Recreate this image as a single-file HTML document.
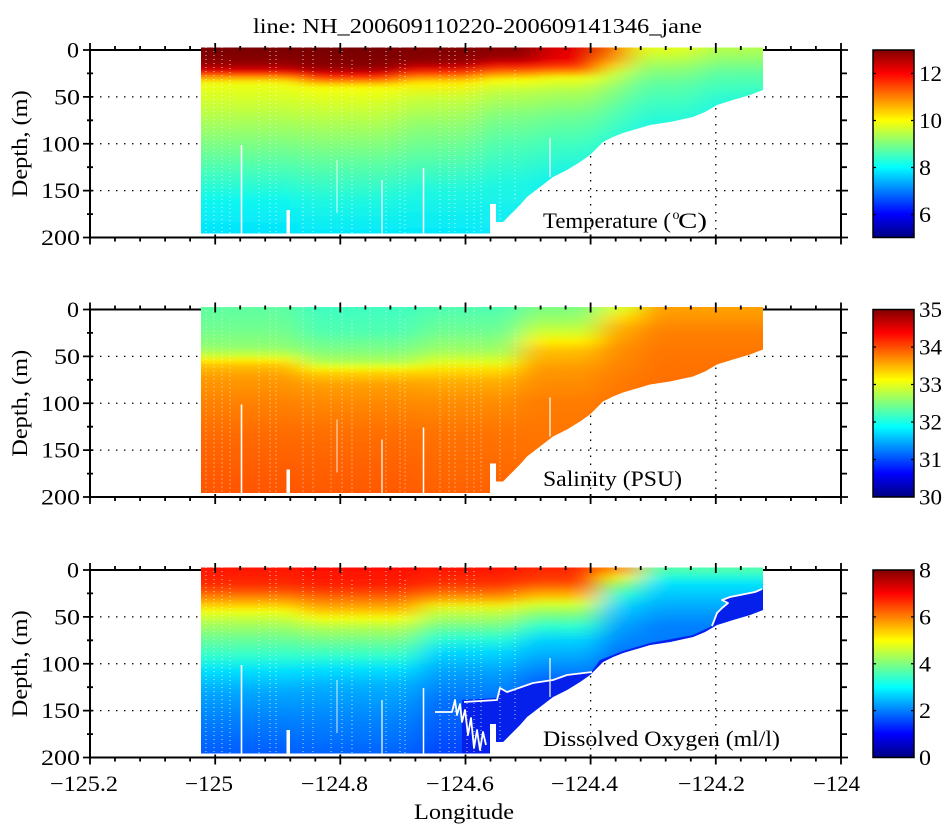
<!DOCTYPE html>
<html><head><meta charset="utf-8"><style>html,body{margin:0;padding:0;background:#fff}svg{display:block}text{font-family:"Liberation Serif","DejaVu Serif",serif;fill:#000}</style></head>
<body>
<svg width="950" height="826" viewBox="0 0 950 826" xmlns="http://www.w3.org/2000/svg" font-family="Liberation Serif, DejaVu Serif, serif">
<defs>
<linearGradient id="jet" x1="0" y1="1" x2="0" y2="0">
<stop offset="0" stop-color="#000080"/><stop offset=".125" stop-color="#0000FF"/><stop offset=".375" stop-color="#00FFFF"/><stop offset=".625" stop-color="#FFFF00"/><stop offset=".875" stop-color="#FF0000"/><stop offset="1" stop-color="#800000"/>
</linearGradient>
<!-- Panel 1 temperature -->
<linearGradient id="g1a" gradientUnits="userSpaceOnUse" x1="0" y1="50" x2="0" y2="237.5">
<stop offset="0" stop-color="#7A0000"/><stop offset=".06" stop-color="#8C0000"/><stop offset=".09" stop-color="#B00000"/><stop offset=".11" stop-color="#E00000"/><stop offset=".125" stop-color="#FF3000"/><stop offset=".14" stop-color="#FF8000"/><stop offset=".16" stop-color="#FFD000"/><stop offset=".18" stop-color="#F0FF10"/><stop offset=".30" stop-color="#C8FF38"/><stop offset=".45" stop-color="#90FF70"/><stop offset=".62" stop-color="#50FFB0"/><stop offset=".80" stop-color="#10F8F0"/><stop offset="1" stop-color="#00E0FF"/>
</linearGradient>
<linearGradient id="g1b" gradientUnits="userSpaceOnUse" x1="0" y1="50" x2="0" y2="237.5">
<stop offset="0" stop-color="#780000"/><stop offset=".08" stop-color="#880000"/><stop offset=".10" stop-color="#A00000"/><stop offset=".12" stop-color="#D00000"/><stop offset=".14" stop-color="#FF2000"/><stop offset=".16" stop-color="#FF7000"/><stop offset=".18" stop-color="#FFC000"/><stop offset=".20" stop-color="#F8FF08"/><stop offset=".30" stop-color="#D0FF30"/><stop offset=".45" stop-color="#98FF68"/><stop offset=".60" stop-color="#60FFA0"/><stop offset=".80" stop-color="#20F8E0"/><stop offset="1" stop-color="#00E8FF"/>
</linearGradient>
<linearGradient id="g1c" gradientUnits="userSpaceOnUse" x1="0" y1="50" x2="0" y2="237.5">
<stop offset="0" stop-color="#800000"/><stop offset=".06" stop-color="#900000"/><stop offset=".09" stop-color="#D00000"/><stop offset=".12" stop-color="#FF3000"/><stop offset=".15" stop-color="#FFA000"/><stop offset=".18" stop-color="#FFF000"/><stop offset=".26" stop-color="#C8FF38"/><stop offset=".40" stop-color="#90FF70"/><stop offset=".55" stop-color="#60FFA0"/><stop offset=".75" stop-color="#20F8E0"/><stop offset="1" stop-color="#00E8FF"/>
</linearGradient>
<linearGradient id="g1d" gradientUnits="userSpaceOnUse" x1="0" y1="50" x2="0" y2="237.5">
<stop offset="0" stop-color="#8A0000"/><stop offset=".04" stop-color="#A00000"/><stop offset=".07" stop-color="#E00000"/><stop offset=".10" stop-color="#FF4000"/><stop offset=".13" stop-color="#FFA000"/><stop offset=".16" stop-color="#F8FF08"/><stop offset=".22" stop-color="#C0FF40"/><stop offset=".35" stop-color="#80FF80"/><stop offset=".50" stop-color="#50FFB0"/><stop offset=".70" stop-color="#20F8E0"/><stop offset="1" stop-color="#10E8FF"/>
</linearGradient>
<linearGradient id="g1e" gradientUnits="userSpaceOnUse" x1="0" y1="50" x2="0" y2="237.5">
<stop offset="0" stop-color="#E00000"/><stop offset=".05" stop-color="#F00000"/><stop offset=".09" stop-color="#FF4000"/><stop offset=".12" stop-color="#FFA000"/><stop offset=".15" stop-color="#F0FF10"/><stop offset=".22" stop-color="#B0FF50"/><stop offset=".35" stop-color="#70FF90"/><stop offset=".50" stop-color="#40FFC0"/><stop offset=".70" stop-color="#10F0F0"/><stop offset="1" stop-color="#10E8FF"/>
</linearGradient>
<linearGradient id="g1f" gradientUnits="userSpaceOnUse" x1="0" y1="50" x2="0" y2="237.5">
<stop offset="0" stop-color="#FF7000"/><stop offset=".04" stop-color="#FF9000"/><stop offset=".08" stop-color="#FFD000"/><stop offset=".12" stop-color="#D0FF30"/><stop offset=".20" stop-color="#90FF70"/><stop offset=".30" stop-color="#60FFA0"/><stop offset=".45" stop-color="#30FFD0"/><stop offset=".60" stop-color="#10F0F0"/><stop offset="1" stop-color="#10E8FF"/>
</linearGradient>
<linearGradient id="g1g" gradientUnits="userSpaceOnUse" x1="0" y1="50" x2="0" y2="237.5">
<stop offset="0" stop-color="#E0FF20"/><stop offset=".04" stop-color="#C0FF40"/><stop offset=".10" stop-color="#90FF70"/><stop offset=".18" stop-color="#60FFA0"/><stop offset=".28" stop-color="#40FFC0"/><stop offset=".40" stop-color="#20F8E0"/><stop offset="1" stop-color="#10E8FF"/>
</linearGradient>
<linearGradient id="g1h" gradientUnits="userSpaceOnUse" x1="0" y1="50" x2="0" y2="237.5">
<stop offset="0" stop-color="#B0FF50"/><stop offset=".05" stop-color="#90FF70"/><stop offset=".12" stop-color="#60FFA0"/><stop offset=".20" stop-color="#40FFC0"/><stop offset=".30" stop-color="#20F8E0"/><stop offset="1" stop-color="#10E8FF"/>
</linearGradient>
<!-- Panel 2 salinity -->
<linearGradient id="g2a" gradientUnits="userSpaceOnUse" x1="0" y1="50" x2="0" y2="237.5">
<stop offset="0" stop-color="#60FFA0"/><stop offset=".10" stop-color="#70FF90"/><stop offset=".20" stop-color="#90FF70"/><stop offset=".25" stop-color="#D0FF30"/><stop offset=".27" stop-color="#FFF000"/><stop offset=".30" stop-color="#FFC000"/><stop offset=".36" stop-color="#FF9C00"/><stop offset=".48" stop-color="#FF8400"/><stop offset=".65" stop-color="#FF6C00"/><stop offset=".85" stop-color="#FF5C00"/><stop offset="1" stop-color="#FF5400"/>
</linearGradient>
<linearGradient id="g2b" gradientUnits="userSpaceOnUse" x1="0" y1="50" x2="0" y2="237.5">
<stop offset="0" stop-color="#40FFC0"/><stop offset=".12" stop-color="#50FFB0"/><stop offset=".22" stop-color="#80FF80"/><stop offset=".28" stop-color="#B0FF50"/><stop offset=".31" stop-color="#F0FF10"/><stop offset=".34" stop-color="#FFD000"/><stop offset=".40" stop-color="#FFA000"/><stop offset=".50" stop-color="#FF8800"/><stop offset=".65" stop-color="#FF7000"/><stop offset=".85" stop-color="#FF6000"/><stop offset="1" stop-color="#FF5800"/>
</linearGradient>
<linearGradient id="g2c" gradientUnits="userSpaceOnUse" x1="0" y1="50" x2="0" y2="237.5">
<stop offset="0" stop-color="#50FFB0"/><stop offset=".12" stop-color="#70FF90"/><stop offset=".22" stop-color="#A0FF60"/><stop offset=".28" stop-color="#E0FF20"/><stop offset=".32" stop-color="#FFE000"/><stop offset=".38" stop-color="#FFB000"/><stop offset=".48" stop-color="#FF9000"/><stop offset=".65" stop-color="#FF7400"/><stop offset="1" stop-color="#FF6000"/>
</linearGradient>
<linearGradient id="g2d" gradientUnits="userSpaceOnUse" x1="0" y1="50" x2="0" y2="237.5">
<stop offset="0" stop-color="#80FF80"/><stop offset=".06" stop-color="#A0FF60"/><stop offset=".12" stop-color="#D0FF30"/><stop offset=".17" stop-color="#FFF000"/><stop offset=".22" stop-color="#FFC000"/><stop offset=".32" stop-color="#FF9800"/><stop offset=".50" stop-color="#FF7C00"/><stop offset="1" stop-color="#FF6800"/>
</linearGradient>
<linearGradient id="g2e" gradientUnits="userSpaceOnUse" x1="0" y1="50" x2="0" y2="237.5">
<stop offset="0" stop-color="#E0FF20"/><stop offset=".04" stop-color="#FFE000"/><stop offset=".10" stop-color="#FFB000"/><stop offset=".20" stop-color="#FF9000"/><stop offset=".40" stop-color="#FF7800"/><stop offset="1" stop-color="#FF6C00"/>
</linearGradient>
<linearGradient id="g2f" gradientUnits="userSpaceOnUse" x1="0" y1="50" x2="0" y2="237.5">
<stop offset="0" stop-color="#FFA000"/><stop offset=".05" stop-color="#FF9400"/><stop offset=".12" stop-color="#FF8000"/><stop offset=".25" stop-color="#FF7400"/><stop offset=".50" stop-color="#FF6C00"/><stop offset="1" stop-color="#FF6800"/>
</linearGradient>
<!-- Panel 3 oxygen -->
<linearGradient id="g3a" gradientUnits="userSpaceOnUse" x1="0" y1="50" x2="0" y2="237.5">
<stop offset="0" stop-color="#FF1800"/><stop offset=".07" stop-color="#FF2800"/><stop offset=".11" stop-color="#FF5000"/><stop offset=".15" stop-color="#FF9000"/><stop offset=".19" stop-color="#FFD000"/><stop offset=".22" stop-color="#F0FF10"/><stop offset=".28" stop-color="#B0FF50"/><stop offset=".36" stop-color="#70FF90"/><stop offset=".46" stop-color="#30FFD0"/><stop offset=".54" stop-color="#00E0FF"/><stop offset=".65" stop-color="#00A8FF"/><stop offset=".80" stop-color="#0080FF"/><stop offset="1" stop-color="#0058FF"/>
</linearGradient>
<linearGradient id="g3b" gradientUnits="userSpaceOnUse" x1="0" y1="50" x2="0" y2="237.5">
<stop offset="0" stop-color="#FF1000"/><stop offset=".08" stop-color="#FF2000"/><stop offset=".12" stop-color="#FF4800"/><stop offset=".17" stop-color="#FF8800"/><stop offset=".22" stop-color="#FFC800"/><stop offset=".26" stop-color="#F0FF10"/><stop offset=".31" stop-color="#B0FF50"/><stop offset=".38" stop-color="#70FF90"/><stop offset=".46" stop-color="#30FFD0"/><stop offset=".53" stop-color="#00E0FF"/><stop offset=".62" stop-color="#00B0FF"/><stop offset=".78" stop-color="#0088FF"/><stop offset="1" stop-color="#0060FF"/>
</linearGradient>
<linearGradient id="g3c" gradientUnits="userSpaceOnUse" x1="0" y1="50" x2="0" y2="237.5">
<stop offset="0" stop-color="#FF1800"/><stop offset=".07" stop-color="#FF3000"/><stop offset=".11" stop-color="#FF6000"/><stop offset=".15" stop-color="#FFA000"/><stop offset=".19" stop-color="#F0F010"/><stop offset=".23" stop-color="#C0FF40"/><stop offset=".29" stop-color="#80FF80"/><stop offset=".36" stop-color="#30FFD0"/><stop offset=".44" stop-color="#00D8FF"/><stop offset=".55" stop-color="#00A0FF"/><stop offset=".70" stop-color="#0070FF"/><stop offset="1" stop-color="#0040FF"/>
</linearGradient>
<linearGradient id="g3d" gradientUnits="userSpaceOnUse" x1="0" y1="50" x2="0" y2="237.5">
<stop offset="0" stop-color="#FF2800"/><stop offset=".06" stop-color="#FF4000"/><stop offset=".10" stop-color="#FF8000"/><stop offset=".14" stop-color="#FFC000"/><stop offset=".18" stop-color="#D8FF28"/><stop offset=".24" stop-color="#80FF80"/><stop offset=".30" stop-color="#30FFD0"/><stop offset=".38" stop-color="#00D0FF"/><stop offset=".48" stop-color="#00A0FF"/><stop offset=".60" stop-color="#0060FF"/><stop offset="1" stop-color="#0030FF"/>
</linearGradient>
<linearGradient id="g3e" gradientUnits="userSpaceOnUse" x1="0" y1="50" x2="0" y2="237.5">
<stop offset="0" stop-color="#FFA000"/><stop offset=".04" stop-color="#F0F010"/><stop offset=".08" stop-color="#90FF70"/><stop offset=".13" stop-color="#30FFD0"/><stop offset=".20" stop-color="#00D0FF"/><stop offset=".30" stop-color="#00A0FF"/><stop offset=".45" stop-color="#0070FF"/><stop offset="1" stop-color="#0040FF"/>
</linearGradient>
<linearGradient id="g3f" gradientUnits="userSpaceOnUse" x1="0" y1="50" x2="0" y2="237.5">
<stop offset="0" stop-color="#50FFB0"/><stop offset=".04" stop-color="#20F8E0"/><stop offset=".08" stop-color="#00E0FF"/><stop offset=".15" stop-color="#00C0FF"/><stop offset=".22" stop-color="#00A0FF"/><stop offset=".30" stop-color="#0080FF"/><stop offset="1" stop-color="#0060FF"/>
</linearGradient>

<clipPath id="dc">
<path d="M201 47.5L763 47.5L763 90L750 95L733 100L717 105L705 112L693 117L670 122L650 125L623 133L613 137L603 142L597 148L590 155L580 162L567 170L553 177L540 187L527 197L520 205L510 215L503 222L496 222L496 204L490 204L490 233.5L201 233.5Z"/>
</clipPath>
<filter id="bl" filterUnits="userSpaceOnUse" x="40" y="0" width="880" height="300">
<feGaussianBlur stdDeviation="14 2"/>
</filter>

<g id="frame">
<g stroke="#000" stroke-width="1.3" stroke-dasharray="1.5 6.5" fill="none">
<path d="M92 96.9H839M92 143.75H839M92 190.6H839"/>
<path d="M340.3 52V236M465.5 52V236M590.6 52V236M715.8 52V236"/>
</g>
<rect x="90" y="50" width="751" height="187.5" fill="none" stroke="#000" stroke-width="2"/>
</g>
<g id="ticks" stroke="#000" stroke-width="1.8" fill="none">
<path d="M90 234.5V244.5M215.2 234.5V244.5M340.3 234.5V244.5M465.5 234.5V244.5M590.6 234.5V244.5M715.8 234.5V244.5M841 234.5V244.5"/>
<path d="M115 237.5v4M140.1 237.5v4M165.1 237.5v4M190.1 237.5v4M240.2 237.5v4M265.2 237.5v4M290.3 237.5v4M315.3 237.5v4M365.4 237.5v4M390.4 237.5v4M415.4 237.5v4M440.4 237.5v4M490.5 237.5v4M515.5 237.5v4M540.6 237.5v4M565.6 237.5v4M615.7 237.5v4M640.7 237.5v4M665.7 237.5v4M690.8 237.5v4M740.8 237.5v4M765.9 237.5v4M790.9 237.5v4M815.9 237.5v4"/>
<path d="M90 43V53M215.2 43V53M340.3 43V53M465.5 43V53M590.6 43V53M715.8 43V53M841 43V53"/>
<path d="M115 46v4M140.1 46v4M165.1 46v4M190.1 46v4M240.2 46v4M265.2 46v4M290.3 46v4M315.3 46v4M365.4 46v4M390.4 46v4M415.4 46v4M440.4 46v4M490.5 46v4M515.5 46v4M540.6 46v4M565.6 46v4M615.7 46v4M640.7 46v4M665.7 46v4M690.8 46v4M740.8 46v4M765.9 46v4M790.9 46v4M815.9 46v4"/>
<path d="M83 50H93M83 96.9H93M83 143.75H93M83 190.6H93M83 237.5H93M87 73.4H93M87 120.3H93M87 167.2H93M87 214.1H93"/>
<path d="M836 50H848M836 96.9H848M836 143.75H848M836 190.6H848M836 237.5H848M841 73.4H847M841 120.3H847M841 167.2H847M841 214.1H847"/>
</g>
<g id="streaks">
<rect x="286.5" y="210" width="3.5" height="30" fill="#fff"/>
<g stroke="#fff" fill="none">
<path d="M241.5 145V240" stroke-width="1.6"/>
<path d="M337 160V213" stroke-width="1" opacity=".85"/>
<path d="M382 180V240" stroke-width="1.2"/>
<path d="M423.5 168V240" stroke-width="1.5"/>
<path d="M550 138V177" stroke-width="1.2"/>
<g stroke-width="1" stroke-dasharray="1 3" opacity=".75">
<path d="M206 47V234M214 47V234M222 47V234M230 60V234M259 80V234M270 47V234M276 47V234M303 47V234M313 47V234M331 47V234M342 47V234M352 60V234M370 47V234M386 47V234M400 47V234M405 60V234M440 47V234M449 47V234M455 47V234M467 47V234M474 47V234M481 70V234M500 90V220M515 70V200"/>
</g>
</g>
</g>
</defs>

<rect width="950" height="826" fill="#fff"/>

<!-- Title -->
<text x="253" y="33" font-size="21" textLength="449" lengthAdjust="spacingAndGlyphs">line: NH_200609110220-200609141346_jane</text>

<!-- ===== Panel 1 ===== -->
<g>
<use href="#frame"/>
<g clip-path="url(#dc)">
<g filter="url(#bl)">
<rect x="60" y="30" width="240" height="220" fill="url(#g1a)"/>
<rect x="300" y="30" width="100" height="220" fill="url(#g1b)"/>
<rect x="400" y="30" width="80" height="220" fill="url(#g1c)"/>
<rect x="480" y="30" width="60" height="220" fill="url(#g1d)"/>
<rect x="540" y="30" width="60" height="220" fill="url(#g1e)"/>
<rect x="600" y="30" width="30" height="220" fill="url(#g1f)"/>
<rect x="630" y="30" width="70" height="220" fill="url(#g1g)"/>
<rect x="700" y="30" width="200" height="220" fill="url(#g1h)"/>
</g>
<use href="#streaks"/>
</g>
<use href="#ticks"/>
<g font-size="22">
<text x="67" y="57.5" textLength="12" lengthAdjust="spacingAndGlyphs">0</text>
<text x="54" y="104.4" textLength="26" lengthAdjust="spacingAndGlyphs">50</text>
<text x="41" y="151.25" textLength="39" lengthAdjust="spacingAndGlyphs">100</text>
<text x="41" y="198.1" textLength="39" lengthAdjust="spacingAndGlyphs">150</text>
<text x="41" y="245" textLength="39" lengthAdjust="spacingAndGlyphs">200</text>
<text transform="translate(27,143.75) rotate(-90)" x="-53.5" y="0" textLength="107" lengthAdjust="spacingAndGlyphs">Depth, (m)</text>
<text x="543" y="228" textLength="128" lengthAdjust="spacingAndGlyphs">Temperature (</text>
<text x="672.5" y="219" font-size="14">o</text>
<text x="678" y="228" textLength="29" lengthAdjust="spacingAndGlyphs">C)</text>
</g>
<rect x="873" y="50" width="41" height="187.5" fill="url(#jet)" stroke="#000" stroke-width="1.5"/>
<path d="M873 73.5h3M873 120.5h3M873 167.5h3M873 214.5h3M914 73.5h-3M914 120.5h-3M914 167.5h-3M914 214.5h-3" stroke="#000" stroke-width="1.2"/>
<g font-size="22">
<text x="919" y="81" textLength="23" lengthAdjust="spacingAndGlyphs">12</text>
<text x="919" y="128" textLength="23" lengthAdjust="spacingAndGlyphs">10</text>
<text x="919" y="175" textLength="12" lengthAdjust="spacingAndGlyphs">8</text>
<text x="919" y="222" textLength="12" lengthAdjust="spacingAndGlyphs">6</text>
</g>
</g>

<!-- ===== Panel 2 ===== -->
<g transform="translate(0,259.5)">
<use href="#frame"/>
<g clip-path="url(#dc)">
<g filter="url(#bl)">
<rect x="60" y="30" width="240" height="220" fill="url(#g2a)"/>
<rect x="300" y="30" width="120" height="220" fill="url(#g2b)"/>
<rect x="420" y="30" width="100" height="220" fill="url(#g2c)"/>
<rect x="520" y="30" width="80" height="220" fill="url(#g2d)"/>
<rect x="600" y="30" width="40" height="220" fill="url(#g2e)"/>
<rect x="640" y="30" width="260" height="220" fill="url(#g2f)"/>
</g>
<use href="#streaks"/>
</g>
<use href="#ticks"/>
<g font-size="22">
<text x="67" y="57.5" textLength="12" lengthAdjust="spacingAndGlyphs">0</text>
<text x="54" y="104.4" textLength="26" lengthAdjust="spacingAndGlyphs">50</text>
<text x="41" y="151.25" textLength="39" lengthAdjust="spacingAndGlyphs">100</text>
<text x="41" y="198.1" textLength="39" lengthAdjust="spacingAndGlyphs">150</text>
<text x="41" y="245" textLength="39" lengthAdjust="spacingAndGlyphs">200</text>
<text transform="translate(27,143.75) rotate(-90)" x="-53.5" y="0" textLength="107" lengthAdjust="spacingAndGlyphs">Depth, (m)</text>
<text x="543" y="226.5" textLength="139" lengthAdjust="spacingAndGlyphs">Salinity (PSU)</text>
</g>
<rect x="873" y="50" width="41" height="187.5" fill="url(#jet)" stroke="#000" stroke-width="1.5"/>
<path d="M873 87.5h3M873 125h3M873 162.5h3M873 200h3M914 87.5h-3M914 125h-3M914 162.5h-3M914 200h-3" stroke="#000" stroke-width="1.2"/>
<g font-size="22">
<text x="919" y="57.5" textLength="23" lengthAdjust="spacingAndGlyphs">35</text>
<text x="919" y="95" textLength="23" lengthAdjust="spacingAndGlyphs">34</text>
<text x="919" y="132.5" textLength="23" lengthAdjust="spacingAndGlyphs">33</text>
<text x="919" y="170" textLength="23" lengthAdjust="spacingAndGlyphs">32</text>
<text x="919" y="207.5" textLength="23" lengthAdjust="spacingAndGlyphs">31</text>
<text x="919" y="245" textLength="23" lengthAdjust="spacingAndGlyphs">30</text>
</g>
</g>

<!-- ===== Panel 3 ===== -->
<g transform="translate(0,520)">
<use href="#frame"/>
<g clip-path="url(#dc)">
<g filter="url(#bl)">
<rect x="60" y="30" width="240" height="220" fill="url(#g3a)"/>
<rect x="300" y="30" width="120" height="220" fill="url(#g3b)"/>
<rect x="420" y="30" width="100" height="220" fill="url(#g3c)"/>
<rect x="520" y="30" width="80" height="220" fill="url(#g3d)"/>
<rect x="600" y="30" width="40" height="220" fill="url(#g3e)"/>
<rect x="640" y="30" width="260" height="220" fill="url(#g3f)"/>
</g>
<path d="M462 180L497 178L500 168L507 172L533 163L553 160L567 155L592 151L600 140L623 131L650 123L693 115L712 106L717 93L722 88L728 83L722 80L730 77L740 75L755 72L766 68L766 110L600 160L480 245L462 245Z" fill="#0620EC"/>
<use href="#streaks"/>
<g fill="none" stroke="#fff" stroke-width="1.8" stroke-linejoin="round">
<path d="M464 182L497 180L500 168L507 172L533 163L553 160L567 155L592 152"/>
<path d="M712 106L717 93L722 88L728 83L722 80L730 77L740 75L755 72L762 69"/>
<path d="M435 192L452 192L455 180L457 195L460 184L462 202L465 190L468 215L471 198L474 228L477 210L480 230L483 212L486 225"/>
</g>
</g>
<use href="#ticks"/>
<g font-size="22">
<text x="67" y="57.5" textLength="12" lengthAdjust="spacingAndGlyphs">0</text>
<text x="54" y="104.4" textLength="26" lengthAdjust="spacingAndGlyphs">50</text>
<text x="41" y="151.25" textLength="39" lengthAdjust="spacingAndGlyphs">100</text>
<text x="41" y="198.1" textLength="39" lengthAdjust="spacingAndGlyphs">150</text>
<text x="41" y="245" textLength="39" lengthAdjust="spacingAndGlyphs">200</text>
<text transform="translate(27,143.75) rotate(-90)" x="-53.5" y="0" textLength="107" lengthAdjust="spacingAndGlyphs">Depth, (m)</text>
<text x="543" y="226" textLength="237" lengthAdjust="spacingAndGlyphs">Dissolved Oxygen (ml/l)</text>
</g>
<rect x="873" y="50" width="41" height="187.5" fill="url(#jet)" stroke="#000" stroke-width="1.5"/>
<path d="M873 96.9h3M873 143.75h3M873 190.6h3M914 96.9h-3M914 143.75h-3M914 190.6h-3" stroke="#000" stroke-width="1.2"/>
<g font-size="22">
<text x="919" y="57.5" textLength="12" lengthAdjust="spacingAndGlyphs">8</text>
<text x="919" y="104.4" textLength="12" lengthAdjust="spacingAndGlyphs">6</text>
<text x="919" y="151.25" textLength="12" lengthAdjust="spacingAndGlyphs">4</text>
<text x="919" y="198.1" textLength="12" lengthAdjust="spacingAndGlyphs">2</text>
<text x="919" y="245" textLength="12" lengthAdjust="spacingAndGlyphs">0</text>
</g>
</g>

<!-- X tick labels -->
<g font-size="22">
<text x="50" y="791" textLength="68" lengthAdjust="spacingAndGlyphs">−125.2</text>
<text x="185" y="791" textLength="48" lengthAdjust="spacingAndGlyphs">−125</text>
<text x="301" y="791" textLength="67" lengthAdjust="spacingAndGlyphs">−124.8</text>
<text x="426" y="791" textLength="68" lengthAdjust="spacingAndGlyphs">−124.6</text>
<text x="551" y="791" textLength="67" lengthAdjust="spacingAndGlyphs">−124.4</text>
<text x="678" y="791" textLength="67" lengthAdjust="spacingAndGlyphs">−124.2</text>
<text x="813" y="791" textLength="47" lengthAdjust="spacingAndGlyphs">−124</text>
<text x="414" y="819" textLength="100" lengthAdjust="spacingAndGlyphs">Longitude</text>
</g>
</svg>
</body></html>
